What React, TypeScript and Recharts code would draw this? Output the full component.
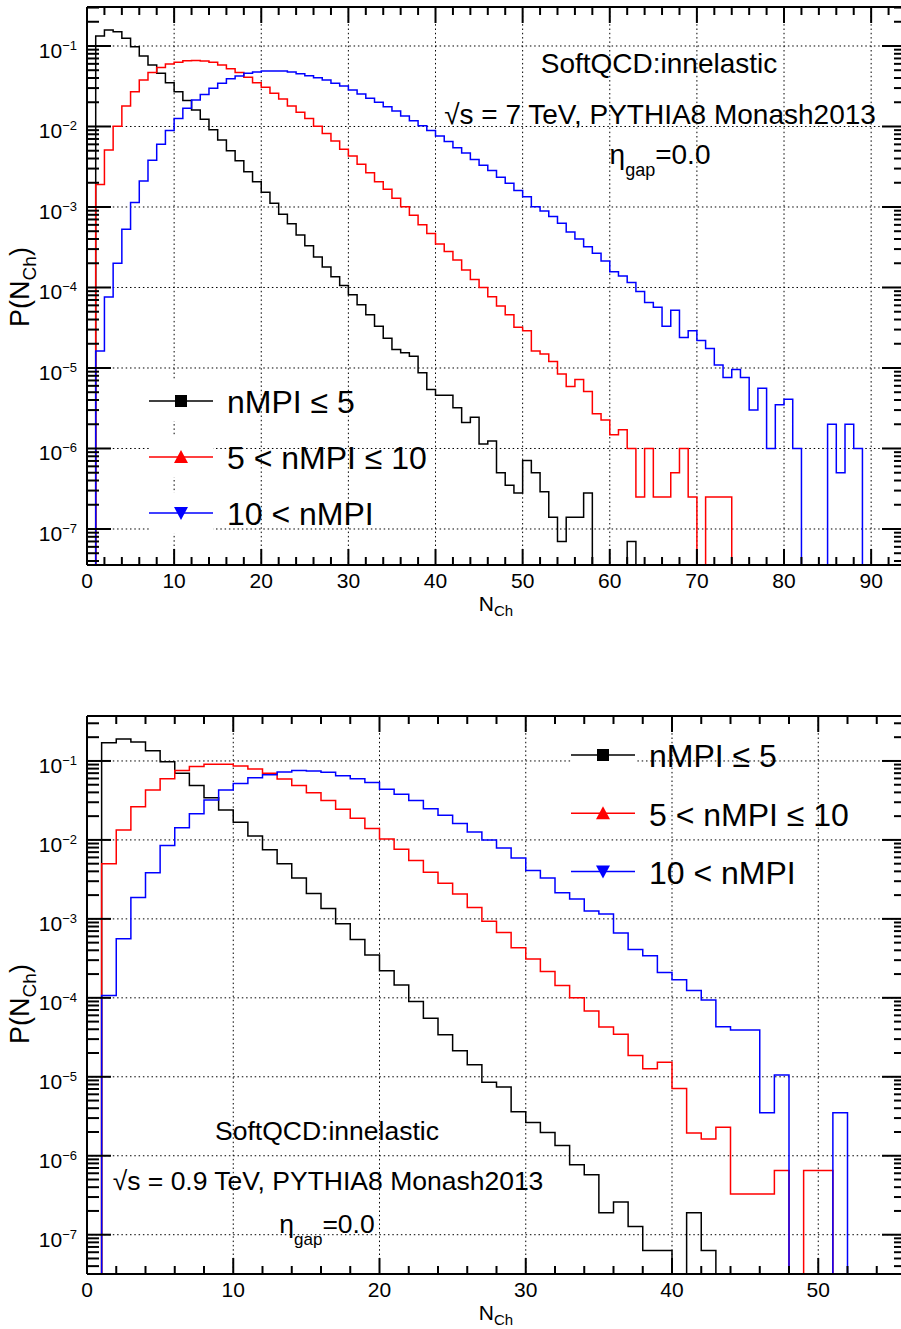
import React from "react";
import { CartesianGrid, Legend, Line, LineChart, XAxis, YAxis } from "recharts";

const FONT = "'Liberation Sans', Arial, Helvetica, sans-serif";
const INK = "#000000";

const SERIES_NAMES = ["nMPI \u2264 5", "5 < nMPI \u2264 10", "10 < nMPI"];
const SERIES_COLORS = ["#000000", "#ff0000", "#0000ff"];

// sqrt(s) = 7 TeV, P(N_Ch) in unit bins [k, k+1), k = 0..93
const LOW_7TEV = [
  0, 0.133, 0.158, 0.15, 0.125, 0.098, 0.075, 0.058, 0.046, 0.035,
  0.027, 0.021, 0.016, 0.0123, 0.0091, 0.0068, 0.005, 0.00376, 0.00274, 0.00206,
  0.00152, 0.00111, 0.00081, 0.00062, 0.00045, 0.00033, 0.00024, 0.00018, 0.000136, 0.000106,
  8.1e-5, 6.1e-5, 4.6e-5, 3.3e-5, 2.34e-5, 1.7e-5, 1.55e-5, 1.4e-5, 8.7e-6, 5.4e-6,
  4.6e-6, 4.6e-6, 3.2e-6, 2.1e-6, 2.44e-6, 1.14e-6, 1.24e-6, 5e-7, 3.5e-7, 2.8e-7,
  7.1e-7, 5e-7, 2.9e-7, 1.4e-7, 7e-8, 1.4e-7, 1.4e-7, 2.8e-7, 0, 0,
  0, 0, 7e-8, 0, 0, 0, 0, 0, 0, 0,
  0, 0, 0, 0, 0, 0, 0, 0, 0, 0,
  0, 0, 0, 0, 0, 0, 0, 0, 0, 0,
  0, 0, 0, 0,
];
const MID_7TEV = [
  0, 0.0019, 0.0051, 0.0101, 0.018, 0.027, 0.0378, 0.047, 0.054, 0.0597,
  0.063, 0.0657, 0.066, 0.065, 0.0626, 0.058, 0.052, 0.0467, 0.0409, 0.035,
  0.0307, 0.0258, 0.022, 0.018, 0.015, 0.0126, 0.0101, 0.0082, 0.0066, 0.0052,
  0.0043, 0.0034, 0.00267, 0.00206, 0.00166, 0.00128, 0.00101, 0.00079, 0.0006, 0.00047,
  0.000347, 0.000279, 0.00022, 0.000165, 0.000126, 0.0001, 7.7e-5, 5.9e-5, 4.6e-5, 3.2e-5,
  2.9e-5, 1.62e-5, 1.49e-5, 1.2e-5, 8.4e-6, 5.9e-6, 7.2e-6, 5.1e-6, 2.7e-6, 2.26e-6,
  1.48e-6, 1.71e-6, 1e-6, 2.5e-7, 1e-6, 2.5e-7, 2.5e-7, 5e-7, 1e-6, 2.5e-7,
  0, 2.5e-7, 2.5e-7, 2.5e-7, 0, 0, 0, 0, 0, 0,
  0, 0, 0, 0, 0, 0, 0, 0, 0, 0,
  0, 0, 0, 0,
];
const HIGH_7TEV = [
  0, 1.62e-5, 7.6e-5, 0.0002, 0.00053, 0.00114, 0.0021, 0.0038, 0.006, 0.0089,
  0.0126, 0.0168, 0.0213, 0.025, 0.0298, 0.0344, 0.0393, 0.0424, 0.0457, 0.0475,
  0.0489, 0.049, 0.049, 0.0475, 0.0453, 0.0427, 0.0403, 0.0378, 0.0344, 0.0319,
  0.0284, 0.0253, 0.0224, 0.02, 0.0176, 0.0156, 0.0135, 0.0118, 0.0102, 0.0089,
  0.0076, 0.0065, 0.00546, 0.0047, 0.0039, 0.0033, 0.00283, 0.00234, 0.00197, 0.0016,
  0.00134, 0.00101, 0.00089, 0.00076, 0.00063, 0.00049, 0.0004, 0.00032, 0.000266, 0.000213,
  0.000157, 0.000139, 0.000115, 8.9e-5, 6.5e-5, 5.7e-5, 3.3e-5, 5.2e-5, 2.4e-5, 2.9e-5,
  2.19e-5, 1.75e-5, 1.09e-5, 7.6e-6, 9.6e-6, 7.6e-6, 3e-6, 5.6e-6, 1e-6, 3.5e-6,
  4.1e-6, 1e-6, 0, 0, 0, 2e-6, 5e-7, 2e-6, 1e-6, 0,
  0, 0, 0, 0,
];

// sqrt(s) = 0.9 TeV, bins k = 0..55
const LOW_09TEV = [
  0, 0.17, 0.19, 0.174, 0.135, 0.098, 0.07, 0.0488, 0.0343, 0.024,
  0.0168, 0.0112, 0.0075, 0.005, 0.0033, 0.0021, 0.00135, 0.00087, 0.00055, 0.00035,
  0.00022, 0.000145, 9e-5, 5.5e-5, 3.4e-5, 2.14e-5, 1.42e-5, 8.5e-6, 7.4e-6, 3.6e-6,
  2.64e-6, 1.97e-6, 1.35e-6, 7.7e-7, 5.75e-7, 1.9e-7, 2.6e-7, 1.27e-7, 6.3e-8, 6.3e-8,
  0, 1.9e-7, 6.3e-8, 0, 0, 0, 0, 0, 0, 0,
  0, 0, 0, 0, 0, 0,
];
const MID_09TEV = [
  0, 0.005, 0.0134, 0.0264, 0.043, 0.0597, 0.0755, 0.0848, 0.0908, 0.091,
  0.0865, 0.079, 0.07, 0.059, 0.049, 0.0397, 0.0315, 0.0245, 0.0188, 0.014,
  0.0103, 0.0076, 0.0055, 0.0039, 0.00283, 0.00206, 0.00139, 0.00093, 0.00067, 0.00043,
  0.00031, 0.000215, 0.000143, 0.0001, 6.8e-5, 4.26e-5, 3.47e-5, 1.86e-5, 1.26e-5, 1.53e-5,
  7.1e-6, 1.94e-6, 1.63e-6, 2.3e-6, 3.27e-7, 3.27e-7, 3.27e-7, 6.5e-7, 0, 6.5e-7,
  6.5e-7, 0, 0, 0, 0, 0,
];
const HIGH_09TEV = [
  0, 0.000107, 0.00056, 0.00186, 0.00385, 0.0085, 0.0143, 0.0215, 0.032, 0.043,
  0.052, 0.0615, 0.067, 0.0726, 0.0755, 0.0745, 0.072, 0.065, 0.0597, 0.0532,
  0.0438, 0.0379, 0.0315, 0.0249, 0.0205, 0.0161, 0.0126, 0.01, 0.0079, 0.0059,
  0.0041, 0.0033, 0.00215, 0.00179, 0.00126, 0.00115, 0.00066, 0.00041, 0.00034, 0.00021,
  0.000169, 0.000124, 9.4e-5, 4.3e-5, 3.9e-5, 3.9e-5, 3.5e-6, 1.05e-5, 0, 0,
  0, 3.5e-6, 0, 0, 0, 0,
];

const X_MAJOR_7TEV = [0, 10, 20, 30, 40, 50, 60, 70, 80, 90];
const X_MAJOR_09TEV = [0, 10, 20, 30, 40, 50];
const Y_DECADES = [1e-7, 1e-6, 1e-5, 1e-4, 1e-3, 1e-2, 1e-1];

const CHART_W = 930;
const CHART_H = 650;

function isDecade(v: number) {
  const e = Math.log10(v);
  return Math.abs(e - Math.round(e)) < 1e-6;
}

// zero bins sit on the frame bottom, as ROOT draws them on a log axis
function buildRows(low: number[], mid: number[], high: number[], floor: number) {
  const rows = low.map((_, k) => ({
    x: k,
    low: Math.max(low[k], floor),
    mid: Math.max(mid[k], floor),
    high: Math.max(high[k], floor),
  }));
  const last = rows[rows.length - 1];
  rows.push({ ...last, x: rows.length });
  return rows;
}

function minorX(xMax: number) {
  const out: number[] = [];
  for (let v = 0; v < xMax; v += 2) out.push(v);
  return out;
}

function logTicks(lo: number, hi: number) {
  const out: number[] = [];
  for (let d = -9; d <= 0; d++) {
    for (let m = 1; m <= 9; m++) {
      const v = m * Math.pow(10, d);
      if (v >= lo && v <= hi) out.push(v);
    }
  }
  return out;
}

const BottomTick = (p: any) => {
  const { x, y, payload } = p;
  const major = payload.value % 10 === 0;
  return (
    <g>
      <line x1={x} y1={y} x2={x} y2={y - (major ? 16 : 8)} stroke={INK} strokeWidth={2} />
      {major && (
        <text x={x} y={y + 23} textAnchor="middle" fontSize={21} fontFamily={FONT} fill={INK}>
          {payload.value}
        </text>
      )}
    </g>
  );
};

const TopTick = (p: any) => {
  const { x, y, payload } = p;
  const major = payload.value % 10 === 0;
  return <line x1={x} y1={y} x2={x} y2={y + (major ? 16 : 8)} stroke={INK} strokeWidth={2} />;
};

const LeftTick = (p: any) => {
  const { x, y, payload } = p;
  const v = payload.value;
  const major = isDecade(v);
  return (
    <g>
      <line x1={x} y1={y} x2={x + (major ? 24 : 12)} y2={y} stroke={INK} strokeWidth={2} />
      {major && (
        <text x={x - 10} y={y + 12} textAnchor="end" fontSize={21} fontFamily={FONT} fill={INK}>
          10
          <tspan dy={-8} fontSize={13}>
            {"\u2212" + Math.abs(Math.round(Math.log10(v)))}
          </tspan>
        </text>
      )}
    </g>
  );
};

const RightTick = (p: any) => {
  const { x, y, payload } = p;
  const major = isDecade(payload.value);
  return <line x1={x} y1={y} x2={x - (major ? 24 : 12)} y2={y} stroke={INK} strokeWidth={2} />;
};

function legendContent(rowGap: number) {
  return (props: any) => {
    const items = [...(props.payload ?? [])].sort(
      (a: any, b: any) => SERIES_NAMES.indexOf(a.value) - SERIES_NAMES.indexOf(b.value)
    );
    return (
      <svg width={330} height={30 + rowGap * 3} style={{ display: "block", overflow: "visible" }}>
        {items.map((item: any) => {
          const i = SERIES_NAMES.indexOf(item.value);
          const cy = 30 + i * rowGap;
          const c = SERIES_COLORS[i];
          let marker;
          if (i === 0) marker = <rect x={30} y={cy - 6} width={12} height={12} fill={c} />;
          else if (i === 1)
            marker = <polygon points={`36,${cy - 7} 29,${cy + 6} 43,${cy + 6}`} fill={c} />;
          else marker = <polygon points={`36,${cy + 7} 29,${cy - 6} 43,${cy - 6}`} fill={c} />;
          return (
            <g key={item.value}>
              <rect x={4} y={cy - 20} width={64} height={40} fill="#ffffff" />
              <line x1={4} y1={cy} x2={68} y2={cy} stroke={c} strokeWidth={1.5} />
              {marker}
              <text x={82} y={cy + 12.3} fontSize={32} fontFamily={FONT} fill={INK}>
                {item.value}
              </text>
            </g>
          );
        })}
      </svg>
    );
  };
}

type PanelProps = {
  low: number[];
  mid: number[];
  high: number[];
  xMax: number;
  xMajor: number[];
  yMin: number;
  yMax: number;
  legendLeft: number;
  legendTop: number;
  legendGap: number;
};

function Panel({ low, mid, high, xMax, xMajor, yMin, yMax, legendLeft, legendTop, legendGap }: PanelProps) {
  const rows = buildRows(low, mid, high, yMin);
  const xTicks = minorX(xMax);
  const yTicks = logTicks(yMin, yMax);
  const keys = ["low", "mid", "high"];
  return (
    <LineChart width={CHART_W} height={CHART_H} data={rows} margin={{ top: 6, right: 23, bottom: 25, left: 0 }}>
      <CartesianGrid
        xAxisId="b"
        yAxisId="l"
        stroke={INK}
        strokeWidth={1}
        strokeDasharray="1.5 2.8"
        horizontalValues={Y_DECADES}
        verticalValues={xMajor.filter((v) => v > 0)}
      />
      <XAxis
        xAxisId="b"
        dataKey="x"
        type="number"
        domain={[0, xMax]}
        allowDataOverflow
        ticks={xTicks}
        interval={0}
        height={60}
        tickSize={0}
        tickMargin={0}
        tickLine={false}
        axisLine={{ stroke: INK, strokeWidth: 2 }}
        tick={BottomTick}
      />
      <XAxis
        xAxisId="t"
        orientation="top"
        type="number"
        domain={[0, xMax]}
        allowDataOverflow
        ticks={xTicks}
        interval={0}
        height={1}
        tickSize={0}
        tickMargin={0}
        tickLine={false}
        axisLine={{ stroke: INK, strokeWidth: 2 }}
        tick={TopTick}
      />
      <YAxis
        yAxisId="l"
        type="number"
        scale="log"
        domain={[yMin, yMax]}
        allowDataOverflow
        ticks={yTicks}
        interval={0}
        width={87}
        tickSize={0}
        tickMargin={0}
        tickLine={false}
        axisLine={{ stroke: INK, strokeWidth: 2 }}
        tick={LeftTick}
      />
      <YAxis
        yAxisId="r"
        orientation="right"
        type="number"
        scale="log"
        domain={[yMin, yMax]}
        allowDataOverflow
        ticks={yTicks}
        interval={0}
        width={1}
        tickSize={0}
        tickMargin={0}
        tickLine={false}
        axisLine={{ stroke: INK, strokeWidth: 2 }}
        tick={RightTick}
      />
      {keys.map((k, i) => (
        <Line
          key={k}
          xAxisId="b"
          yAxisId="l"
          dataKey={k}
          name={SERIES_NAMES[i]}
          type="stepAfter"
          stroke={SERIES_COLORS[i]}
          strokeWidth={1.5}
          dot={false}
          activeDot={false}
          isAnimationActive={false}
        />
      ))}
      <Legend
        layout="vertical"
        align="center"
        verticalAlign="middle"
        content={legendContent(legendGap)}
        wrapperStyle={{ left: legendLeft, top: legendTop, width: 330 }}
      />
    </LineChart>
  );
}

export default function App() {
  return (
    <div
      style={{
        position: "absolute",
        left: 0,
        top: 0,
        width: 901,
        height: 1329,
        overflow: "hidden",
        background: "#ffffff",
        fontFamily: FONT,
      }}
    >
      <div style={{ position: "absolute", left: 0, top: 0 }}>
        <Panel
          low={LOW_7TEV}
          mid={MID_7TEV}
          high={HIGH_7TEV}
          xMax={94}
          xMajor={X_MAJOR_7TEV}
          yMin={3.57e-8}
          yMax={0.305}
          legendLeft={145}
          legendTop={371}
          legendGap={56}
        />
      </div>
      <div style={{ position: "absolute", left: 0, top: 709 }}>
        <Panel
          low={LOW_09TEV}
          mid={MID_09TEV}
          high={HIGH_09TEV}
          xMax={56}
          xMajor={X_MAJOR_09TEV}
          yMin={3.18e-8}
          yMax={0.371}
          legendLeft={567}
          legendTop={16}
          legendGap={58.3}
        />
      </div>
      <svg
        width={901}
        height={1329}
        style={{ position: "absolute", left: 0, top: 0, pointerEvents: "none" }}
        fontFamily={FONT}
        fill={INK}
      >
        {/* upper panel */}
        <text x={659} y={73} textAnchor="middle" fontSize={28}>SoftQCD:innelastic</text>
        <text x={660} y={124} textAnchor="middle" fontSize={28}>{"\u221As = 7 TeV, PYTHIA8 Monash2013"}</text>
        <text x={660} y={164} textAnchor="middle" fontSize={28}>
          {"\u03B7"}
          <tspan dy={12} fontSize={18}>gap</tspan>
          <tspan dy={-12}>=0.0</tspan>
        </text>
        <text x={496} y={611} textAnchor="middle" fontSize={21}>
          N<tspan dy={5} fontSize={15}>Ch</tspan>
        </text>
        <text transform="translate(29,287) rotate(-90)" textAnchor="middle" fontSize={27}>
          P(N<tspan dy={7} fontSize={19}>Ch</tspan>
          <tspan dy={-7}>)</tspan>
        </text>
        {/* lower panel */}
        <text x={327} y={1140} textAnchor="middle" fontSize={26.5}>SoftQCD:innelastic</text>
        <text x={328} y={1190} textAnchor="middle" fontSize={26.5}>{"\u221As = 0.9 TeV, PYTHIA8 Monash2013"}</text>
        <text x={327} y={1233} textAnchor="middle" fontSize={26.5}>
          {"\u03B7"}
          <tspan dy={12} fontSize={17}>gap</tspan>
          <tspan dy={-12}>=0.0</tspan>
        </text>
        <text x={496} y={1320} textAnchor="middle" fontSize={21}>
          N<tspan dy={5} fontSize={15}>Ch</tspan>
        </text>
        <text transform="translate(29,1004) rotate(-90)" textAnchor="middle" fontSize={27}>
          P(N<tspan dy={7} fontSize={19}>Ch</tspan>
          <tspan dy={-7}>)</tspan>
        </text>
      </svg>
    </div>
  );
}
